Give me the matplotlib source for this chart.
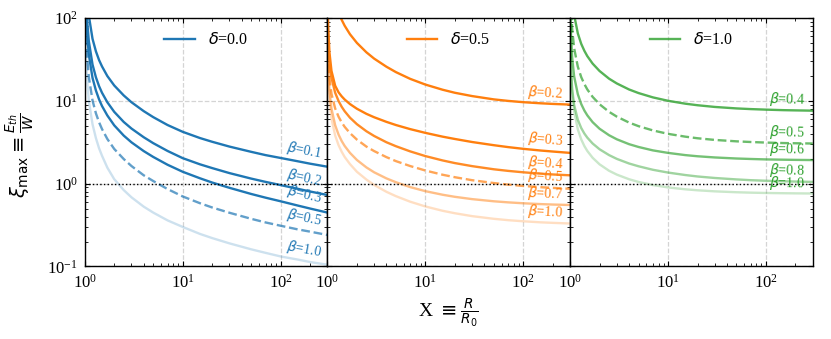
import numpy as np
import matplotlib
matplotlib.use("Agg")
import matplotlib.pyplot as plt

plt.rcParams['font.family'] = 'serif'
plt.rcParams['font.serif'] = ['Liberation Serif', 'DejaVu Serif']
plt.rcParams['font.size'] = 12

# X = R/R0 sample points (shared by every curve)
x_vals = [1.005, 1.01, 1.02, 1.05, 1.1, 1.2, 1.3, 1.4, 1.5, 1.7, 2, 2.5, 3, 4, 5, 7,
          10, 15, 20, 30, 50, 70, 100, 150, 200, 300]

# delta = 0.0
d0_b01 = [2044, 1025, 515, 209, 107, 56.0, 39.5, 31.0, 26.0, 19.9, 15.3, 11.6, 9.6, 7.5, 6.35, 5.1,
          4.22, 3.55, 3.2, 2.8, 2.42, 2.21, 2.04, 1.86, 1.74, 1.60]
d0_b02 = [1002, 503, 253, 102.5, 52.5, 27.4, 19.2, 15.0, 12.5, 9.6, 7.35, 5.55, 4.62, 3.63, 3.08, 2.48,
          2.03, 1.71, 1.54, 1.34, 1.15, 1.05, 0.96, 0.865, 0.803, 0.729]
d0_b03 = [691, 347, 174, 70.7, 36.2, 18.9, 13.3, 10.4, 8.65, 6.65, 5.05, 3.8, 3.15, 2.47, 2.1, 1.69,
          1.39, 1.16, 1.03, 0.89, 0.75, 0.677, 0.612, 0.543, 0.50, 0.447]
d0_b05 = [371, 186, 93.4, 37.9, 19.4, 10.1, 7.05, 5.5, 4.56, 3.46, 2.62, 1.98, 1.63, 1.26, 1.075, 0.86,
          0.70, 0.58, 0.515, 0.445, 0.376, 0.34, 0.31, 0.28, 0.263, 0.240]
d0_b10 = [190, 95.5, 48.0, 19.5, 9.97, 5.21, 3.54, 2.67, 2.17, 1.56, 1.13, 0.835, 0.683, 0.527, 0.447, 0.36,
          0.30, 0.247, 0.22, 0.19, 0.161, 0.146, 0.132, 0.121, 0.113, 0.105]

# delta = 0.5
d5_b02 = [2878, 1656, 957, 463, 270, 158, 117, 94.7, 80.6, 63.6, 50.0, 38.5, 32.3, 25.8, 22.2, 18.4,
          15.7, 13.6, 12.5, 11.4, 10.4, 9.97, 9.62, 9.33, 9.17, 9.0]
d5_b03 = [190, 120, 75, 38, 23, 15.2, 12.65, 11.3, 10.36, 9.13, 8.02, 6.96, 6.33, 5.57, 5.10, 4.55,
          4.10, 3.69, 3.46, 3.18, 2.91, 2.76, 2.63, 2.51, 2.44, 2.35]
d5_b04 = [122, 78.5, 50.7, 28.8, 18.9, 12.5, 9.93, 8.45, 7.48, 6.25, 5.22, 4.29, 3.76, 3.16, 2.83, 2.45,
          2.15, 1.905, 1.77, 1.626, 1.49, 1.425, 1.37, 1.32, 1.29, 1.26]
d5_b05 = [78.3, 50.3, 32.5, 18.5, 12.15, 8.08, 6.42, 5.47, 4.85, 4.07, 3.4, 2.80, 2.47, 2.09, 1.87, 1.63,
          1.44, 1.28, 1.195, 1.10, 1.016, 0.973, 0.937, 0.906, 0.888, 0.867]
d5_b07 = [67.4, 40.9, 24.9, 13.0, 8.05, 5.07, 3.90, 3.26, 2.85, 2.35, 1.93, 1.57, 1.37, 1.157, 1.04, 0.908,
          0.811, 0.734, 0.693, 0.65, 0.612, 0.594, 0.579, 0.566, 0.559, 0.552]
d5_b10 = [51.9, 31.4, 19.1, 9.93, 6.11, 3.81, 2.91, 2.42, 2.10, 1.72, 1.39, 1.12, 0.964, 0.797, 0.706, 0.605,
          0.53, 0.47, 0.439, 0.405, 0.376, 0.362, 0.351, 0.341, 0.336, 0.33]

# delta = 1.0
d1_b04 = [1193, 680, 388, 187, 109, 65.1, 48.7, 40.1, 34.6, 28.1, 22.9, 18.5, 16.2, 13.7, 12.4, 11.0,
          10.0, 9.23, 8.84, 8.43, 8.09, 7.94, 7.82, 7.71, 7.66, 7.6]
d1_b05 = [472, 269, 153, 74.1, 43.2, 25.8, 19.3, 15.9, 13.7, 11.15, 9.08, 7.36, 6.44, 5.46, 4.94, 4.39,
          3.99, 3.69, 3.53, 3.37, 3.24, 3.18, 3.13, 3.09, 3.07, 3.05]
d1_b06 = [209.8, 119.9, 68.6, 33.4, 19.75, 12.0, 9.14, 7.62, 6.67, 5.52, 4.6, 3.84, 3.43, 2.996, 2.77, 2.52,
          2.35, 2.21, 2.14, 2.07, 2.01, 1.984, 1.96, 1.945, 1.935, 1.925]
d1_b08 = [65.5, 40.7, 25.4, 13.9, 8.94, 5.90, 4.69, 4.02, 3.59, 3.05, 2.60, 2.21, 1.99, 1.75, 1.62, 1.47,
          1.36, 1.27, 1.22, 1.17, 1.124, 1.10, 1.083, 1.068, 1.059, 1.049]
d1_b10 = [87.4, 48.9, 27.4, 13.0, 7.55, 4.52, 3.42, 2.84, 2.48, 2.05, 1.71, 1.43, 1.285, 1.13, 1.048, 0.961,
          0.90, 0.854, 0.831, 0.807, 0.787, 0.778, 0.771, 0.766, 0.763, 0.76]

panels = [
    ('0.0', 'tab:blue', [('0.1', d0_b01, 1.0, '-'), ('0.2', d0_b02, 1.0, '-'), ('0.3', d0_b03, 1.0, '-'),
                         ('0.5', d0_b05, 0.7, '--'), ('1.0', d0_b10, 0.22, '-')]),
    ('0.5', 'tab:orange', [('0.2', d5_b02, 1.0, '-'), ('0.3', d5_b03, 1.0, '-'), ('0.4', d5_b04, 0.9, '-'),
                           ('0.5', d5_b05, 0.7, '--'), ('0.7', d5_b07, 0.5, '-'), ('1.0', d5_b10, 0.25, '-')]),
    ('1.0', 'tab:green', [('0.4', d1_b04, 0.8, '-'), ('0.5', d1_b05, 0.7, '--'), ('0.6', d1_b06, 0.65, '-'),
                          ('0.8', d1_b08, 0.45, '-'), ('1.0', d1_b10, 0.25, '-')]),
]

fig, axes = plt.subplots(1, 3, sharey=True, figsize=(8.31, 3.39), dpi=100)
fig.subplots_adjust(left=0.102, right=0.978, top=0.947, bottom=0.214, wspace=0)

for ax, (delta, color, curves) in zip(axes, panels):
    ax.set_xscale('log')
    ax.set_yscale('log')
    ax.set_xlim(1, 300)
    ax.set_ylim(0.1, 100)
    ax.grid(True, which='major', ls='--', color='#d4d4d4', lw=0.9)
    ax.axhline(1, color='black', ls=':', lw=1.0, zorder=5)
    ax.tick_params(which='both', direction='in', top=True, right=True, labelsize=12)
    ax.tick_params(axis='x', pad=5)
    ax.tick_params(axis='y', pad=5)
    for sp in ax.spines.values():
        sp.set_linewidth(1.0)

    for i, (beta, ys, alpha, ls) in enumerate(curves):
        lab = r'$\delta$=' + delta if i == 0 else None
        ax.plot(x_vals, ys, color=color, alpha=alpha, ls=ls, lw=1.7, label=lab)

    ax.legend(loc='upper center', frameon=False, fontsize=11.5, handlelength=1.9)

    # beta labels near the right end of each curve, rotated along the curve
    for beta, ys, alpha, ls in curves:
        p1 = ax.transData.transform((x_vals[-4], ys[-4]))
        p2 = ax.transData.transform((x_vals[-1], ys[-1]))
        ang = np.degrees(np.arctan2(p2[1] - p1[1], p2[0] - p1[0]))
        ax.annotate(r'$\beta$=' + beta, xy=(x_vals[-2] * 1.25, ys[-2]), xytext=(0, 1.0),
                    textcoords='offset points', ha='right', va='bottom', rotation=ang,
                    rotation_mode='anchor', color=color, fontsize=10)

axes[0].set_ylabel(r'$\xi_{\rm max} \equiv \frac{E_{th}}{W}$', fontsize=14)
axes[0].yaxis.set_label_coords(-0.2, 0.45)
fig.text(0.540, 0.077, r'X $\equiv \frac{R}{R_0}$', ha='center', va='center', fontsize=14)

plt.savefig('out.png', dpi=100)
